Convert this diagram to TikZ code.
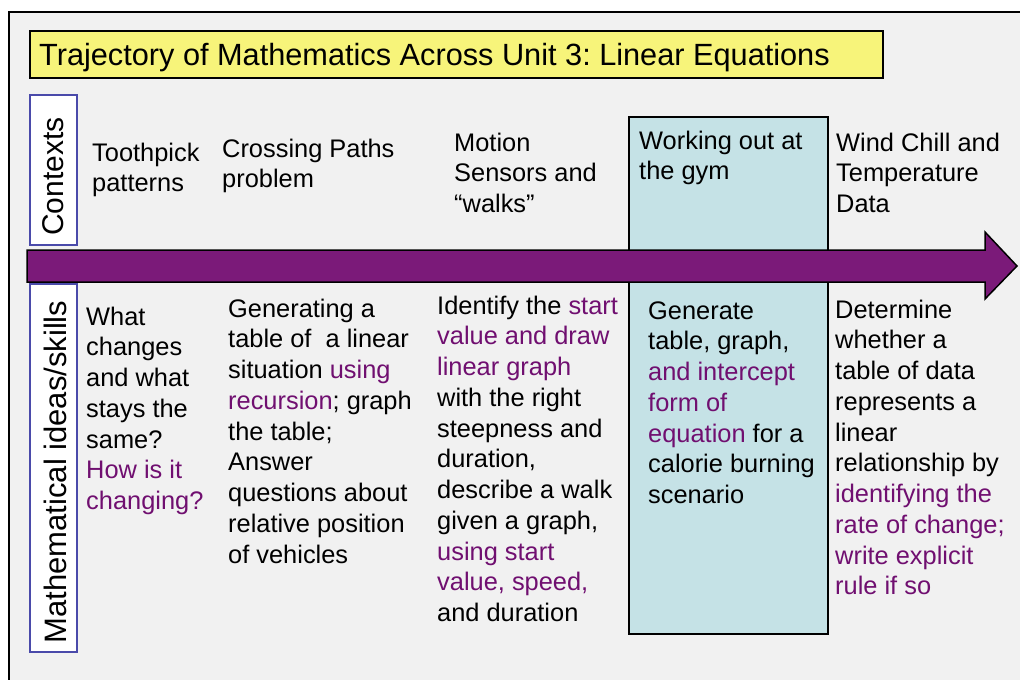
\documentclass[tikz,border=0pt]{standalone}
\usepackage{fontspec}
\setmainfont{Liberation Sans}
\frenchspacing

\definecolor{panelgray}{HTML}{F1F1F1}
\definecolor{titleyellow}{HTML}{F7F47A}
\definecolor{trendpurple}{HTML}{7B1A79}
\definecolor{ideapurple}{HTML}{700F70}
\definecolor{gymblue}{HTML}{C5E2E6}
\definecolor{labelblue}{HTML}{4A4AAA}

\newcommand{\purp}[1]{\textcolor{ideapurple}{#1}}
\newcommand{\cellstrut}{\rule{0pt}{19pt}}

\tikzset{
  cell/.style={anchor=north west, inner sep=0pt, align=left,
    font=\fontsize{25.4}{30.75}\selectfont},
  sidelabel/.style={anchor=base, inner sep=0pt, rotate=90},
}

\begin{document}
\begin{tikzpicture}[x=1pt, y=-1pt]
    \useasboundingbox (0,0) rectangle (1020,680);
    % panel and title bar
    \draw[line width=2pt, fill=panelgray] (9,12) rectangle (1040,700);
    \draw[line width=1.5pt, fill=titleyellow] (30,31) rectangle (883,78);
    \node[anchor=base west, inner sep=0pt, font=\fontsize{30.7}{36}\selectfont]
        (title) at (39,65) {Trajectory of Mathematics Across Unit 3: Linear Equations};

    % row labels
    \draw[line width=1.5pt, draw=labelblue, fill=white] (30,95) rectangle (77,245);
    \node[sidelabel, font=\fontsize{30}{36}\selectfont] (ctxlabel) at (63.5,176.5) {Contexts};
    \draw[line width=1.5pt, draw=labelblue, fill=white] (30,284) rectangle (77,652);
    \node[sidelabel, font=\fontsize{31}{37}\selectfont] (idealabel) at (66.5,472) {Mathematical ideas/skills};

    % highlighted column and the trend arrow
    \draw[line width=1.5pt, fill=gymblue] (629,117) rectangle (828,634);
    \draw[line width=1.5pt, fill=trendpurple]
        (27,250) -- (985,250) -- (985,232) -- (1017,266) -- (985,299) -- (985,282) -- (27,282) -- cycle;

    % contexts
    \node[cell] (ctx1) at (92,142) {\cellstrut Toothpick\\patterns};
    \node[cell] (ctx2) at (222,138) {\cellstrut Crossing Paths\\problem};
    \node[cell] (ctx3) at (454,132) {\cellstrut Motion\\Sensors and\\“walks”};
    \node[cell] (ctx4) at (639,130) {\cellstrut Working out at\\the gym};
    \node[cell] (ctx5) at (836,132) {\cellstrut Wind Chill and\\Temperature\\Data};

    % ideas and skills
    \node[cell] (idea1) at (86,306) {\cellstrut What\\changes\\and what\\stays the\\same?\\\purp{How is it}\\\purp{changing?}};
    \node[cell] (idea2) at (228,298) {\cellstrut Generating a\\table of~ a linear\\situation \purp{using}\\\purp{recursion}; graph\\the table;\\Answer\\questions about\\relative position\\of vehicles};
    \node[cell] (idea3) at (437,295) {\cellstrut Identify the \purp{start}\\\purp{value and draw}\\\purp{linear graph}\\with the right\\steepness and\\duration,\\describe a walk\\given a graph,\\\purp{using start}\\\purp{value, speed,}\\and duration};
    \node[cell] (idea4) at (648,300) {\cellstrut Generate\\table, graph,\\\purp{and intercept}\\\purp{form of}\\\purp{equation} for a\\calorie burning\\scenario};
    \node[cell] (idea5) at (835,299) {\cellstrut Determine\\whether a\\table of data\\represents a\\linear\\relationship by\\\purp{identifying the}\\\purp{rate of change;}\\\purp{write explicit}\\\purp{rule if so}};
\end{tikzpicture}
\end{document}
